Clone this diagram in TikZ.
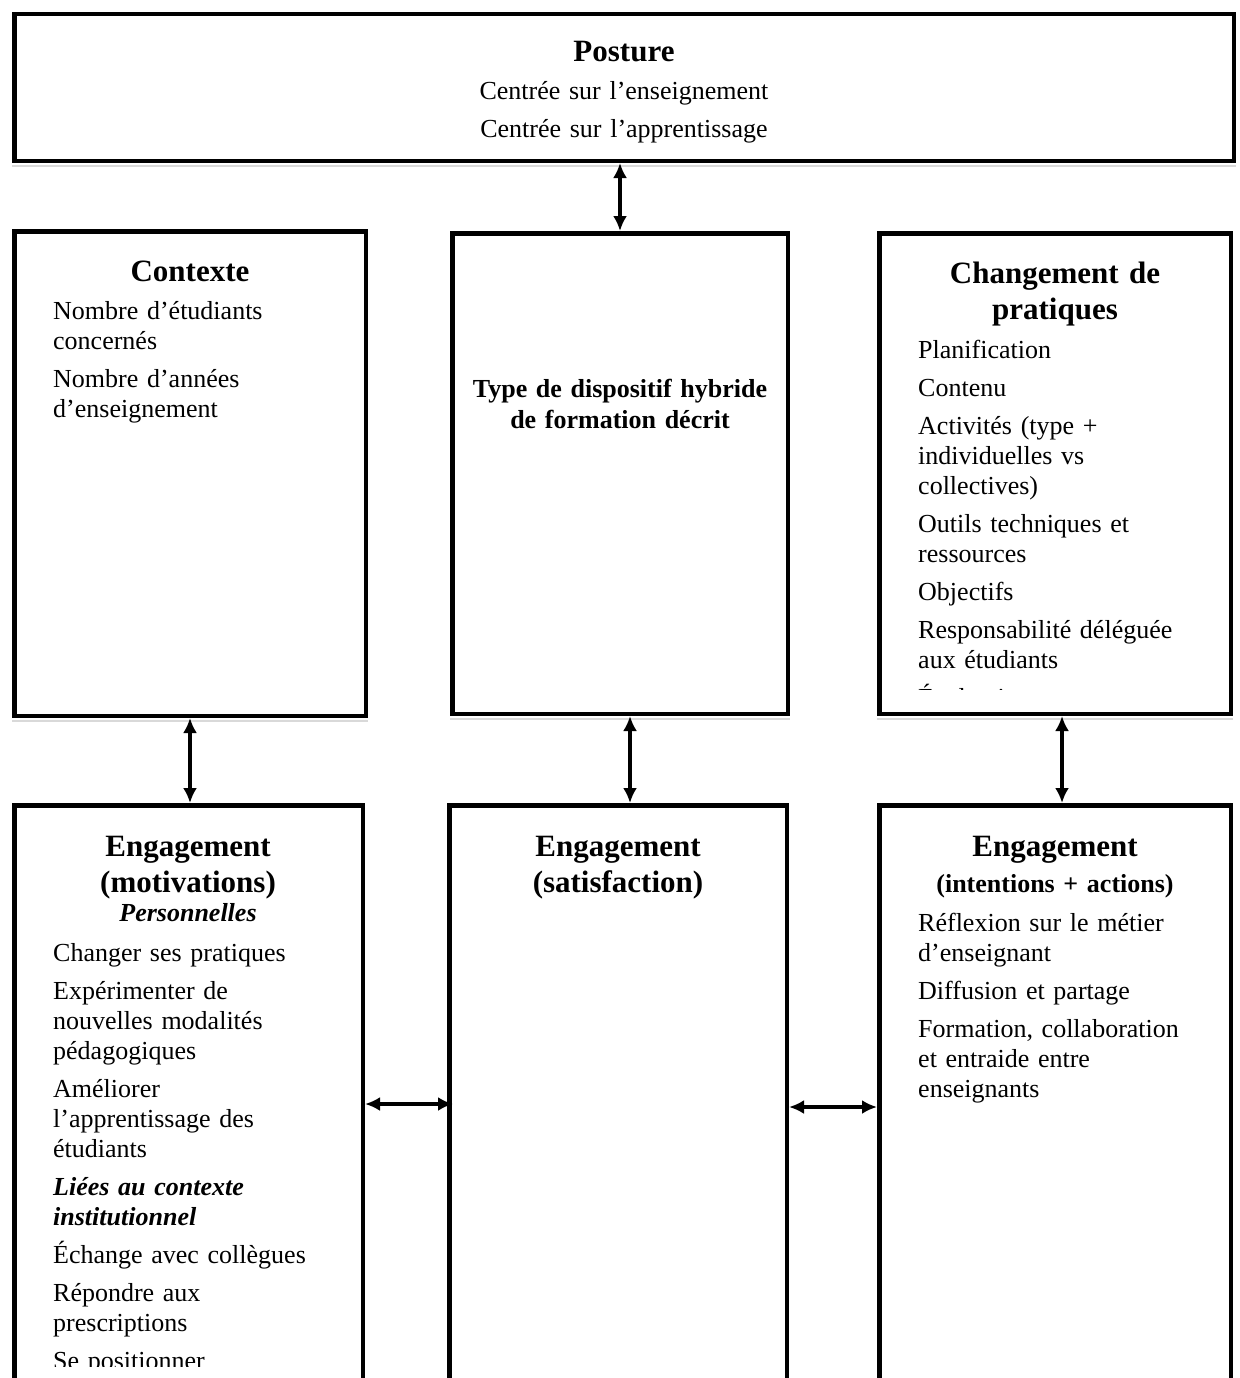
\documentclass[tikz,border=0pt]{standalone}
\usepackage{fontspec}
\setmainfont{Liberation Serif}
\usetikzlibrary{arrows.meta}

\begin{document}
\begin{tikzpicture}[x=1pt,y=-1pt,
    box/.style={draw=black, line width=4.5pt, rectangle, inner sep=0pt},
    shadowline/.style={draw=gray!30, line width=2pt},
    both/.style={{Latex[length=15pt,width=14pt]}-{Latex[length=15pt,width=14pt]}, line width=3.5pt},
    title/.style={font=\fontsize{31}{36}\selectfont\bfseries, text width=340pt, align=center, inner sep=0pt, anchor=base},
    subtitle/.style={font=\fontsize{26}{31}\selectfont\bfseries, text width=340pt, align=center, inner sep=0pt, anchor=base},
    body/.style={font=\fontsize{26}{30}\selectfont, text width=305pt, align=left, inner sep=0pt, anchor=base west}]
\clip (0,0) rectangle (1239,1378);

% Boxes
\node[box, minimum width=1219.5pt, minimum height=146.5pt] (post) at (624,87.5) {};
\node[box, minimum width=351.5pt, minimum height=484.5pt] (ctx) at (190,473.5) {};
\node[box, minimum width=335.5pt, minimum height=480.5pt] (typ) at (620,473.5) {};
\node[box, minimum width=351.5pt, minimum height=480.5pt] (chg) at (1055,473.5) {};
\node[box, minimum width=348.5pt, minimum height=597.5pt] (eml) at (188.5,1104) {};
\node[box, minimum width=337.5pt, minimum height=597.5pt] (ems) at (618,1104) {};
\node[box, minimum width=351.5pt, minimum height=597.5pt] (emr) at (1055,1104) {};

% Shadows under the boxes
\foreach \b in {post,ctx,typ,chg}
    \draw[shadowline] ([yshift=-3pt]\b.south west) -- ([yshift=-3pt]\b.south east);

% Posture
\node[title, text width=600pt] (posttitle) at (624,62) {Posture};
\node[body, anchor=base, text width=600pt, align=center] (posttxt) at (624,100)
    {Centrée sur l’enseignement\\[7pt]Centrée sur l’apprentissage};

% Contexte
\node[title] (ctxtitle) at (190,281) {Contexte};
\node[body] (ctxtxt) at (53,319)
    {Nombre d’étudiants\\concernés\\[8pt]Nombre d’années\\d’enseignement};

% Type de dispositif
\node[subtitle] (typtxt) at (620,397) {Type de dispositif hybride\\de formation décrit};

% Changement de pratiques
\node[title] (chgtitle) at (1055,283) {Changement de\\pratiques};
\begin{scope}
\clip (882,236) rectangle (1228,689);
\node[body] (chgtxt) at (918,358)
    {Planification\\[8pt]Contenu\\[8pt]Activités (type +\\individuelles vs\\collectives)\\[8pt]%
     Outils techniques et\\ressources\\[8pt]Objectifs\\[8pt]Responsabilité déléguée\\aux étudiants\\[8pt]Évaluation};
\end{scope}

% Engagement (motivations)
\node[title] (emltitle) at (188,856) {Engagement\\(motivations)};
\node[subtitle, font=\fontsize{26}{31}\selectfont\bfseries\itshape] (emlsub) at (188,921) {Personnelles};
\begin{scope}
\clip (17,808) rectangle (360,1366);
\node[body] (emltxt) at (53,961)
    {Changer ses pratiques\\[8pt]Expérimenter de\\nouvelles modalités\\pédagogiques\\[8pt]%
     Améliorer\\l’apprentissage des\\étudiants\\[8pt]%
     {\bfseries\itshape Liées au contexte\\institutionnel}\\[8pt]%
     Échange avec collègues\\[8pt]Répondre aux\\prescriptions\\[8pt]Se positionner};
\end{scope}

% Engagement (satisfaction)
\node[title] (emstitle) at (618,856) {Engagement\\(satisfaction)};

% Engagement (intentions + actions)
\node[title] (emrtitle) at (1055,856) {Engagement};
\node[subtitle] (emrsub) at (1055,892) {(intentions + actions)};
\node[body] (emrtxt) at (918,931)
    {Réflexion sur le métier\\d’enseignant\\[8pt]Diffusion et partage\\[8pt]%
     Formation, collaboration\\et entraide entre\\enseignants};

% Arrows
\draw[both] (typ.north |- post.south) -- (typ.north);
\draw[both] (ctx.south) -- (ctx.south |- eml.north);
\draw[both] ([xshift=10pt]typ.south) -- ([xshift=10pt]typ.south |- ems.north);
\draw[both] ([xshift=7pt]chg.south) -- ([xshift=7pt]chg.south |- emr.north);
\draw[both] (eml.east) -- ([xshift=6pt]ems.west);
\draw[both] ([yshift=-3pt]ems.east) -- ([yshift=-3pt]emr.west);
\end{tikzpicture}
\end{document}
